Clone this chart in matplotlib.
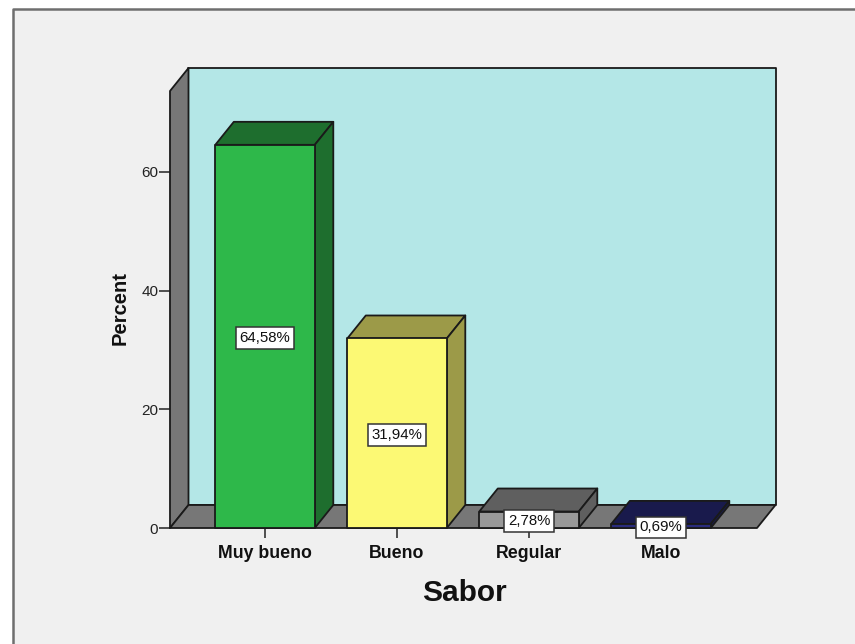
import matplotlib
matplotlib.use("Agg")
import matplotlib.pyplot as plt
from matplotlib.patches import Polygon, Rectangle
from matplotlib.lines import Line2D

plt.rcParams['font.family'] = ['Liberation Sans', 'DejaVu Sans']

categories = ["Muy bueno", "Bueno", "Regular", "Malo"]
percents = [64.58, 31.94, 2.78, 0.69]
value_labels = ["64,58%", "31,94%", "2,78%", "0,69%"]
y_ticks = [0, 20, 40, 60]
x_title = "Sabor"
y_title = "Percent"

front_colors = ["#2EB84A", "#FCF974", "#999999", "#2A2C7E"]
top_colors = ["#1E6E2E", "#9C9A48", "#5F5F5F", "#191A4C"]
side_colors = ["#1E6E2E", "#9C9A48", "#5F5F5F", "#191A4C"]
wall_color = "#B4E7E7"
floor_color = "#777777"
edge_color = "#1A1A1A"
page_color = "#F0F0F0"

W, H = 855, 644
fig = plt.figure(figsize=(W / 100, H / 100), dpi=100, facecolor="white")

# Chart page with its frame running off the right and bottom edges
page = fig.add_axes([0, 0, 1, 1], zorder=0)
page.set_xlim(0, W)
page.set_ylim(H, 0)
page.axis("off")
page.add_patch(Rectangle((12.5, 8.5), W, H, facecolor=page_color, edgecolor="none"))
page.add_line(Line2D([12.5, 12.5, 855], [644, 8.5, 8.5], color="#6E6E6E", lw=1.8))

# Plot area spans the front plane of the box
L, R, T, B = 170, 757, 91, 528
ax = fig.add_axes([L / W, 1 - B / H, (R - L) / W, (B - T) / H], zorder=1)
xmin, xmax = -0.72, 3.727
ymin, ymax = 0, (B - T) / (356 / 60)
ax.set_xlim(xmin, xmax)
ax.set_ylim(ymin, ymax)
ax.patch.set_visible(False)
for s in ax.spines.values():
    s.set_visible(False)

# Depth of the box in data units
dx = 18.5 / ((R - L) / (xmax - xmin))
dy = 23 / ((B - T) / (ymax - ymin))
bar_w = 99.5 / 132


def face(points, color, z):
    ax.add_patch(Polygon(points, closed=True, facecolor=color, edgecolor=edge_color,
                         lw=1.3, joinstyle="round", clip_on=False, zorder=z))


# Back wall, left wall and floor
face([(xmin + dx, dy), (xmax + dx, dy), (xmax + dx, ymax + dy), (xmin + dx, ymax + dy)], wall_color, 1)
face([(xmin, 0), (xmin + dx, dy), (xmin + dx, ymax + dy), (xmin, ymax)], floor_color, 2)
face([(xmin, 0), (xmax, 0), (xmax + dx, dy), (xmin + dx, dy)], floor_color, 2)

# Extruded bars
for i, v in enumerate(percents):
    x0, x1 = i - bar_w / 2, i + bar_w / 2
    face([(x0, v), (x1, v), (x1 + dx, v + dy), (x0 + dx, v + dy)], top_colors[i], 3)
    face([(x1, 0), (x1 + dx, dy), (x1 + dx, v + dy), (x1, v)], side_colors[i], 3)
    face([(x0, 0), (x1, 0), (x1, v), (x0, v)], front_colors[i], 4)

# Value labels sit at mid-height of the front face
for i, (v, txt) in enumerate(zip(percents, value_labels)):
    ax.text(i, v / 2, txt, ha="center", va="center_baseline", fontsize=10.8, color="#111111", zorder=6,
            bbox=dict(boxstyle="square,pad=0.26", facecolor="white", edgecolor="#333333", lw=1.1))

ax.set_xticks(range(len(categories)))
ax.set_xticklabels(categories, fontsize=12.8, fontweight="bold", color="#111111")
ax.set_yticks(y_ticks)
ax.set_yticklabels([str(t) for t in y_ticks], fontsize=11, color="#222222")
ax.tick_params(axis="x", length=7.5, width=1.2, color="#333333", pad=4.5)
ax.tick_params(axis="y", length=8, width=1.2, color="#333333", pad=0.5)
for t in ax.get_xticklabels():
    t.set_zorder(5)

page.text(464, 593, x_title, ha="center", va="center", fontsize=21.5, fontweight="bold", color="#111111")
page.text(120, 308, y_title, ha="center", va="center", rotation=90, fontsize=14.5, fontweight="bold", color="#111111")

fig.savefig("out.png", dpi=100, facecolor="white")
